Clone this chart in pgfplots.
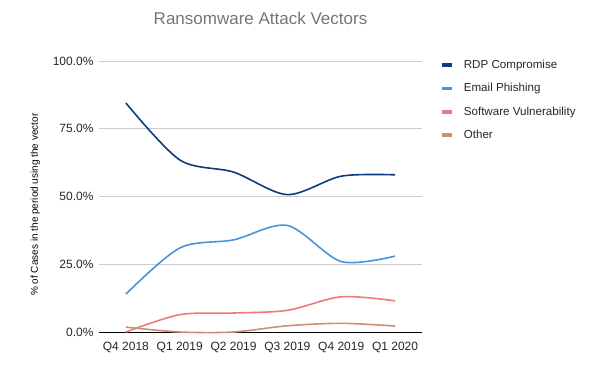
\documentclass[border=0pt]{standalone}
\usepackage{pgfplots}
\pgfplotsset{compat=1.18}
\usepackage{fontspec}
\setmainfont{Liberation Sans}
\definecolor{rdp}{HTML}{0B3D7C}
\definecolor{email}{HTML}{4A93DB}
\definecolor{soft}{HTML}{F0787C}
\definecolor{other}{HTML}{CC8F75}
\definecolor{titlegray}{HTML}{757575}
\definecolor{gridgray}{HTML}{CCCCCC}
\begin{document}
\begin{tikzpicture}[x=1pt,y=1pt]
\useasboundingbox (0,0) rectangle (601,366);
\begin{axis}[
  at={(99pt,34pt)}, anchor=south west,
  width=323pt, height=271pt, scale only axis,
  xmin=-0.5, xmax=5.5, ymin=0, ymax=100,
  xtick={0,1,2,3,4,5},
  xticklabels={Q4 2018,Q1 2019,Q2 2019,Q3 2019,Q4 2019,Q1 2020},
  ytick={0,25,50,75,100},
  yticklabels={0.0\%,25.0\%,50.0\%,75.0\%,100.0\%},
  axis x line*=bottom, axis y line*=left,
  x axis line style={black, line width=0.8pt, -},
  y axis line style={draw=none},
  major tick length=0pt,
  ymajorgrids, grid style={gridgray, line width=0.6pt},
  tick label style={font=\fontsize{12}{14}\selectfont, text=black!85},
  yticklabel style={xshift=-2pt},
  xticklabel style={yshift=-6.5pt},
  ylabel={\% of Cases in the period using the vector},
  ylabel style={font=\fontsize{11.6}{13}\selectfont, text=black!85},
  every axis y label/.style={at={(ticklabel cs:0.47)}, rotate=90, anchor=south, yshift=6pt},
  title={Ransomware Attack Vectors},
  title style={font=\fontsize{17}{20}\selectfont, text=titlegray, yshift=27pt},
  clip=false,
  legend style={at={(1.056,1.011)}, anchor=north west, draw=none, fill=none,
    font=\fontsize{11.6}{13}\selectfont, text=black!85, row sep=9.4pt, inner sep=0pt},
  legend cell align=left,
  legend image code/.code={\draw[#1, line width=3.5pt] (0pt,0pt) -- (10pt,0pt); \path (19pt,0pt);},
  every axis plot/.append style={line width=1.6pt, smooth, tension=0.5},
]
\addplot[color=rdp] coordinates {(0,84.5) (1,63.5) (2,59) (3,50.7) (4,57.5) (5,58)};
\addlegendentry{RDP Compromise}
\addplot[color=email] coordinates {(0,14) (1,31) (2,34) (3,39.3) (4,26) (5,28)};
\addlegendentry{Email Phishing}
\addplot[color=soft] coordinates {(0,0) (1,6.4) (2,7) (3,8) (4,13) (5,11.5)};
\addlegendentry{Software Vulnerability}
\addplot[color=other] coordinates {(0,1.8) (1,0) (2,0) (3,2.3) (4,3.2) (5,2.2)};
\addlegendentry{Other}
\end{axis}
\end{tikzpicture}
\end{document}
